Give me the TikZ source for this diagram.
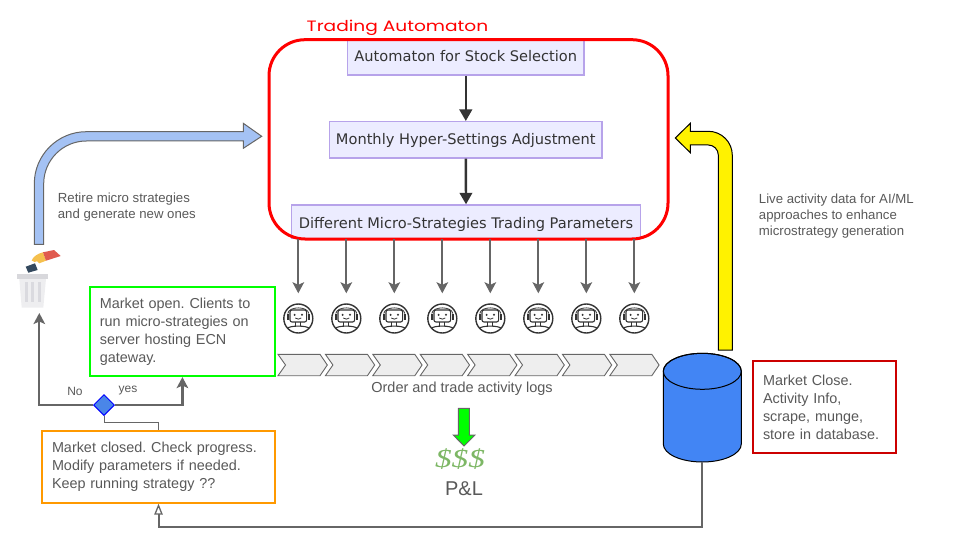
\documentclass[tikz,border=0pt]{standalone}
\usepackage{fontspec}
\setmainfont{Liberation Sans}
\newfontfamily\mermaidfont{DejaVu Sans}
\newfontfamily\titlefont{Poppins}
\newfontfamily\dollarfont{Liberation Serif}
\usetikzlibrary{arrows.meta,shapes.geometric}
\definecolor{txt}{HTML}{595959}
\definecolor{conn}{HTML}{666666}
\definecolor{lav}{HTML}{ECECFF}
\definecolor{lavb}{HTML}{B7A3EA}
\definecolor{dark}{HTML}{333333}
\definecolor{chev}{HTML}{EEEEEE}
\definecolor{orangeline}{HTML}{FF9900}
\definecolor{redline}{HTML}{CC0000}
\definecolor{gateblue}{HTML}{4A86E8}
\definecolor{dbblue}{HTML}{4285F4}
\definecolor{lightblue}{HTML}{A4C2F4}
\definecolor{moneygreen}{HTML}{7DB765}
\definecolor{paper}{HTML}{E05A4E}
\definecolor{hand}{HTML}{F5C04E}
\definecolor{slate}{HTML}{34495E}
\definecolor{binbody}{HTML}{EEEEF0}
\definecolor{binlid}{HTML}{D8D8DC}
\definecolor{binstripe}{HTML}{DADADF}
\tikzset{
  x=1pt,y=-1pt,
  mer/.style={draw=lavb,fill=lav,line width=1.3pt,inner sep=0pt,text=dark,font=\mermaidfont\fontsize{14.6}{16}\selectfont},
  note/.style={line width=2pt,fill=white,inner xsep=9.5pt,inner ysep=0pt,align=left,text=txt,font=\fontsize{14.4}{18}\selectfont},
  captext/.style={text=txt,inner sep=0pt,align=left,font=\fontsize{13.2}{16}\selectfont},
  merarrow/.style={draw=dark,line width=2.4pt,-{Triangle[length=11.5pt,width=12.5pt]}},
  solidarrow/.style={draw=conn,line width=2.2pt,-{Stealth[length=11pt,width=11.5pt,inset=2.5pt]}},
  robot/.style={circle,draw=dark,line width=1.4pt,minimum size=29pt,inner sep=0pt},
  chevron/.style={draw=conn,fill=chev,line width=0.9pt},
}
\begin{document}
\frenchspacing
\begin{tikzpicture}
\useasboundingbox (0,0) rectangle (960,540);
% automaton boxes
\node[mer,minimum width=236.5pt,minimum height=35pt] (sel) at (465.8,57.5) {\raisebox{-4.2pt}[0pt][0pt]{Automaton for Stock Selection}};
\node[mer,minimum width=272.3pt,minimum height=36.3pt] (hyper) at (465.8,139.8) {\raisebox{-4.9pt}[0pt][0pt]{Monthly Hyper-Settings Adjustment}};
\node[mer,minimum width=348.6pt,minimum height=33.7pt] (params) at (466,221.8) {\raisebox{-6.2pt}[0pt][0pt]{Different Micro-Strategies Trading Parameters}};
\draw[merarrow] (sel.south) -- (hyper.north);
\draw[merarrow] (hyper.south) -- (params.north);
\draw[red,line width=3pt,rounded corners=36pt] (269,39.7) rectangle (668,239);
\node[inner sep=0pt,text=red,font=\titlefont\fontsize{15}{18}\selectfont] (title) at (397.5,27.5) {\scalebox{1.24}[1]{Trading Automaton}};
% robots
\foreach \i/\x in {1/298.3,2/346.3,3/394.3,4/442.3,5/490.3,6/538.3,7/586.3,8/634.3}{
  \node[robot] (r\i) at (\x,318.5) {};
  \draw[solidarrow,shorten >=10pt] (r\i |- params.south) -- (r\i.north);
  \begin{scope}[shift={(r\i.center)},draw=dark,line width=1.1pt]
    \draw[rounded corners=2pt] (-8.3,-8.5) rectangle (8.3,3.5);
    \draw[line width=1.8pt] (-10.5,-5) -- (-10.5,1);
    \draw[line width=1.8pt] (10.5,-5) -- (10.5,1);
    \draw[line width=0.8pt] (-10.5,-5) .. controls (-9.5,-12.5) and (9.5,-12.5) .. (10.5,-5);
    \fill[dark] (-3.7,-3.7) circle[radius=1.1pt];
    \fill[dark] (3.7,-3.7) circle[radius=1.1pt];
    \draw[line width=0.8pt] (-3,-0.5) .. controls (-1,1) and (1,1) .. (3,-0.5);
    \draw (-2.5,3.5) -- (-2.5,7);
    \draw (2.5,3.5) -- (2.5,7);
    \draw (-11,10) .. controls (-9,6.8) and (9,6.8) .. (11,10);
  \end{scope}
}
% chevrons
\foreach \i in {0,...,7}{
  \draw[chevron,shift={(47.4*\i,0)}] (278,354.3) -- (320,354.3) -- (327.3,365) -- (320,375.7) -- (278,375.7) -- (285.5,365) -- cycle;
}
\node[captext,font=\fontsize{14.5}{16}\selectfont] (logs) at (462,389) {Order and trade activity logs};
% notes
\node[note,draw=green,minimum width=184.7pt,minimum height=89.3pt,text width=165pt] (open) at (182.4,331.4) {Market open. Clients to\\run micro-strategies on\\server hosting ECN\\gateway.};
\node[note,draw=orangeline,minimum width=232.4pt,minimum height=72pt,text width=213pt] (closed) at (158.5,466.7) {Market closed. Check progress.\\Modify parameters if needed.\\Keep running strategy ??};
\node[note,draw=redline,minimum width=142.4pt,minimum height=92.3pt,text width=123pt] (close) at (824.5,407.2) {Market Close.\\Activity Info,\\scrape, munge,\\store in database.};
% gateway
\node[diamond,draw=blue,fill=gateblue,line width=1pt,minimum size=21pt,inner sep=0pt] (gate) at (104,405) {};
\coordinate (binfoot) at (39.3,313);
\coordinate (gatebend) at (158.5,422.3);
\draw[solidarrow] (gate.west) -| (binfoot);
\draw[solidarrow] (gate.east) -| (open.south);
\draw[draw=conn,line width=1pt] (gate.south) |- (gatebend) -- (closed.north);
\node[captext,font=\fontsize{12}{14}\selectfont] (no) at (75,391) {No};
\node[captext,font=\fontsize{12}{14}\selectfont] (yes) at (128,390.5) {yes};
% database
\node[inner sep=0pt,minimum width=78pt,minimum height=108.7pt] (db) at (702.3,407.6) {};
\draw[black,fill=dbblue,line width=1pt] (663.3,371.3) -- (663.3,444) arc[start angle=180,end angle=360,x radius=39pt,y radius=18pt] -- (741.3,371.3) arc[start angle=0,end angle=180,x radius=39pt,y radius=18pt] -- cycle;
\draw[black,line width=1pt] (702.3,371.3) ellipse[x radius=39pt,y radius=18pt];
\coordinate (dbbend) at (closed.south |- 0,527);
\draw[draw=conn,line width=2pt,-{Triangle[open,length=11pt,width=8.5pt,line width=1.3pt]}] (db.south) |- (dbbend) -- (closed.south);
% yellow arrow
\draw[black,fill=yellow,line width=1pt] (718.3,350) -- (718.3,155) .. controls (718.3,149.5) and (713.8,145) .. (708.3,145) -- (690.3,145) -- (690.3,152.7) -- (675.3,138) -- (690.3,123.3) -- (690.3,131.3) -- (708.3,131.3) .. controls (721.5,131.3) and (732.3,142) .. (732.3,155.3) -- (732.3,350) -- cycle;
% blue arrow
\draw[conn,fill=lightblue,line width=1pt] (34.3,244.3) -- (34.3,183.7) .. controls (34.3,155) and (57.7,131.7) .. (86.3,131.7) -- (243.3,131.7) -- (243.3,123.3) -- (261.7,136.3) -- (243.3,148.3) -- (243.3,141) -- (86.3,141) .. controls (62.8,141) and (43.7,160.2) .. (43.7,183.7) -- (43.7,244.3) -- cycle;
% green arrow
\draw[conn,fill=green,line width=1pt] (458.3,408.3) -- (469.3,408.3) -- (469.3,435) -- (475,435) -- (464,446) -- (453.3,435) -- (458.3,435) -- cycle;
% captions
\node[captext,anchor=west] (retire) at (57.7,207) {Retire micro strategies\\and generate new ones};
\node[captext,anchor=west] (live) at (758.7,216) {Live activity data for AI/ML\\approaches to enhance\\microstrategy generation};
\node[inner sep=0pt,text=moneygreen,font=\dollarfont\itshape\fontsize{26}{30}\selectfont] (money) at (460,459) {\scalebox{1.28}[1]{\$\$\$}};
\node[inner sep=0pt,text=txt,font=\fontsize{20}{22}\selectfont] (pl) at (464,489) {P\&L};
% bin
\begin{scope}
  \fill[binbody] (19.3,279) -- (46,279) -- (43.3,307.7) -- (21.7,307.7) -- cycle;
  \fill[binlid] (17.3,274.3) rectangle (48.3,279.3);
  \foreach \x in {26.3,32.4,39.2} \fill[binstripe] (\x-1.5,282) rectangle (\x+1.5,302);
  \fill[hand] (31.7,260.5) .. controls (33,256.5) and (38,253.5) .. (43,252.3) -- (46,260.7) -- (39.3,263.3) .. controls (38.5,261) and (36,260.5) .. (34.5,262) -- cycle;
  \fill[paper] (43,252.3) -- (54,250) -- (60.7,256) -- (46,260.7) -- cycle;
  \fill[slate] (25.7,266.7) -- (35,263.3) -- (37.7,270) -- (28.3,272.7) -- cycle;
\end{scope}
\end{tikzpicture}
\end{document}
